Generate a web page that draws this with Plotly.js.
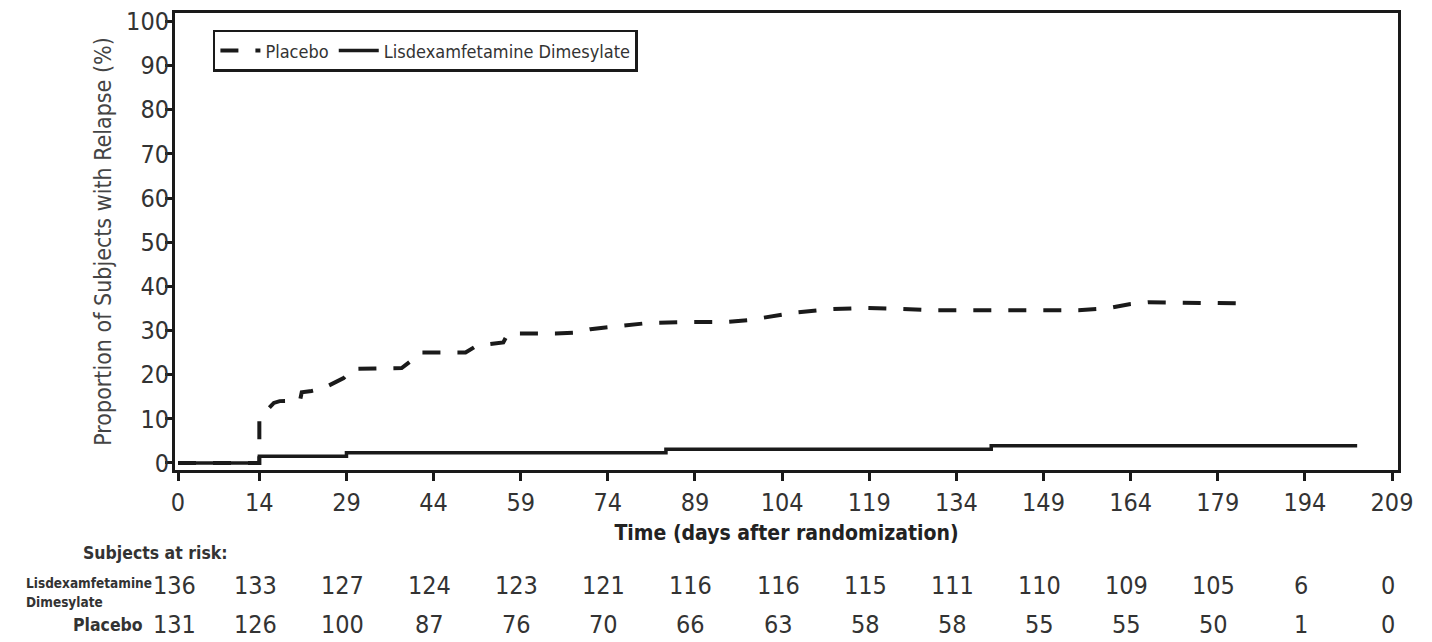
<!DOCTYPE html>
<html>
<head>
<meta charset="utf-8">
<script src="https://cdn.plot.ly/plotly-3.0.1.min.js"></script>
<style>
html,body{margin:0;padding:0;background:#fff;}
#chart{width:1432px;height:642px;}
</style>
</head>
<body>
<div id="chart"></div>
<script>
// ---- data ----
const tickDays = [0,14,29,44,59,74,89,104,119,134,149,164,179,194,209];
const yTicks = [0,10,20,30,40,50,60,70,80,90,100];

const placeboDays = [0,14,14,15,16.5,17.5,21,21.3,23,25,28.5,30,34,38.5,40.5,41.5,49.5,51.5,56,56.8,65,68,71,76,81,88,94,98,102,106,112,118,124,130,143,155,160,164,167,173,179,185];
const placeboPct  = [0,0,9.5,11.5,13.6,14.0,14.1,16.0,16.3,16.9,19.2,21.3,21.4,21.5,23.5,25.0,25.0,26.6,27.3,29.3,29.3,29.5,30.3,30.9,31.7,31.9,31.9,32.3,33.2,34.0,34.8,35.1,34.9,34.6,34.6,34.6,35.0,36.0,36.4,36.4,36.2,36.1];

const ldxDays = [0,14,29,84,140,203];
const ldxPct  = [0,1.5,2.3,3.1,3.9,3.9];

const riskLdx = [136,133,127,124,123,121,116,116,115,111,110,109,105,6,0];
const riskPbo = [131,126,100,87,76,70,66,63,58,58,55,55,50,1,0];

const labelPlacebo = "Placebo";
const labelLdx = "Lisdexamfetamine Dimesylate";

// ---- styling ----
const FONT = '"Liberation Sans Narrow", "Arial Narrow", "DejaVu Sans Condensed", "Liberation Sans", sans-serif';
const TXT = '#333';

const traces = [
  {x: placeboDays, y: placeboPct, name: labelPlacebo, type: 'scatter', mode: 'lines',
   line: {color: '#1a1a1a', width: 4, dash: '18px,17px'}},
  {x: ldxDays, y: ldxPct, name: labelLdx, type: 'scatter', mode: 'lines',
   line: {color: '#1a1a1a', width: 3.5, shape: 'hv'}}
];

const annotations = [];
const yHead = -0.182, yRow1 = -0.252, yRow2 = -0.339;
annotations.push({xref:'paper', yref:'paper', x:0.045, y:yHead, xanchor:'right', yanchor:'middle',
  text:'<b>Subjects at risk:</b>', showarrow:false, font:{family:FONT, size:17.5, color:'#333'}});
annotations.push({xref:'paper', yref:'paper', x:-0.1235, y:-0.247, xanchor:'left', yanchor:'middle',
  text:'<b>Lisdexamfetamine</b>', showarrow:false, font:{family:FONT, size:13.5, color:'#333'}});
annotations.push({xref:'paper', yref:'paper', x:-0.1235, y:-0.289, xanchor:'left', yanchor:'middle',
  text:'<b>Dimesylate</b>', showarrow:false, font:{family:FONT, size:13.5, color:'#333'}});
annotations.push({xref:'paper', yref:'paper', x:-0.0245, y:yRow2, xanchor:'right', yanchor:'middle',
  text:'<b>' + labelPlacebo + '</b>', showarrow:false, font:{family:FONT, size:17.5, color:'#333'}});
tickDays.forEach((d, i) => {
  annotations.push({xref:'x', yref:'paper', x:d, y:yRow1, xanchor:'center', yanchor:'middle', xshift:-4,
    text:String(riskLdx[i]), showarrow:false, font:{family:FONT, size:25, color:TXT}});
  annotations.push({xref:'x', yref:'paper', x:d, y:yRow2, xanchor:'center', yanchor:'middle', xshift:-4,
    text:String(riskPbo[i]), showarrow:false, font:{family:FONT, size:25, color:TXT}});
});

const layout = {
  width: 1432, height: 642,
  margin: {l:175, r:34, t:13, b:172},
  paper_bgcolor: '#fff', plot_bgcolor: '#fff',
  font: {family: FONT, color: TXT},
  showlegend: true,
  legend: {
    orientation: 'h', x: 0.031, y: 0.963, xanchor: 'left', yanchor: 'top',
    bordercolor: '#1a1a1a', borderwidth: 2.5, bgcolor: '#fff',
    font: {family: FONT, size: 18, color: '#333'}, itemwidth: 40, tracegroupgap: 0
  },
  xaxis: {
    range: [-0.52, 210.03], tickvals: tickDays, ticktext: tickDays.map(String),
    ticks: 'outside', ticklen: 8, tickwidth: 3, tickcolor: '#1a1a1a',
    showline: true, linewidth: 3, linecolor: '#1a1a1a', mirror: true,
    showgrid: false, zeroline: false, fixedrange: true,
    tickfont: {family: FONT, size: 25, color: TXT},
    title: {text: '<b>Time (days after randomization)</b>', font: {family: FONT, size: 21, color: '#222'}, standoff: 10}
  },
  yaxis: {
    range: [-1.6, 101.9], tickvals: yTicks,
    ticks: 'outside', ticklen: 7, tickwidth: 3, tickcolor: '#1a1a1a',
    showline: true, linewidth: 3, linecolor: '#1a1a1a', mirror: true,
    showgrid: false, zeroline: false, fixedrange: true, ticklabelstandoff: -9,
    tickfont: {family: FONT, size: 25, color: TXT},
    title: {text: 'Proportion of Subjects with Relapse (%)', font: {family: FONT, size: 23, color: '#444'}, standoff: 9}
  },
  annotations: annotations
};

Plotly.newPlot('chart', traces, layout, {staticPlot: true, displayModeBar: false});
</script>
</body>
</html>
